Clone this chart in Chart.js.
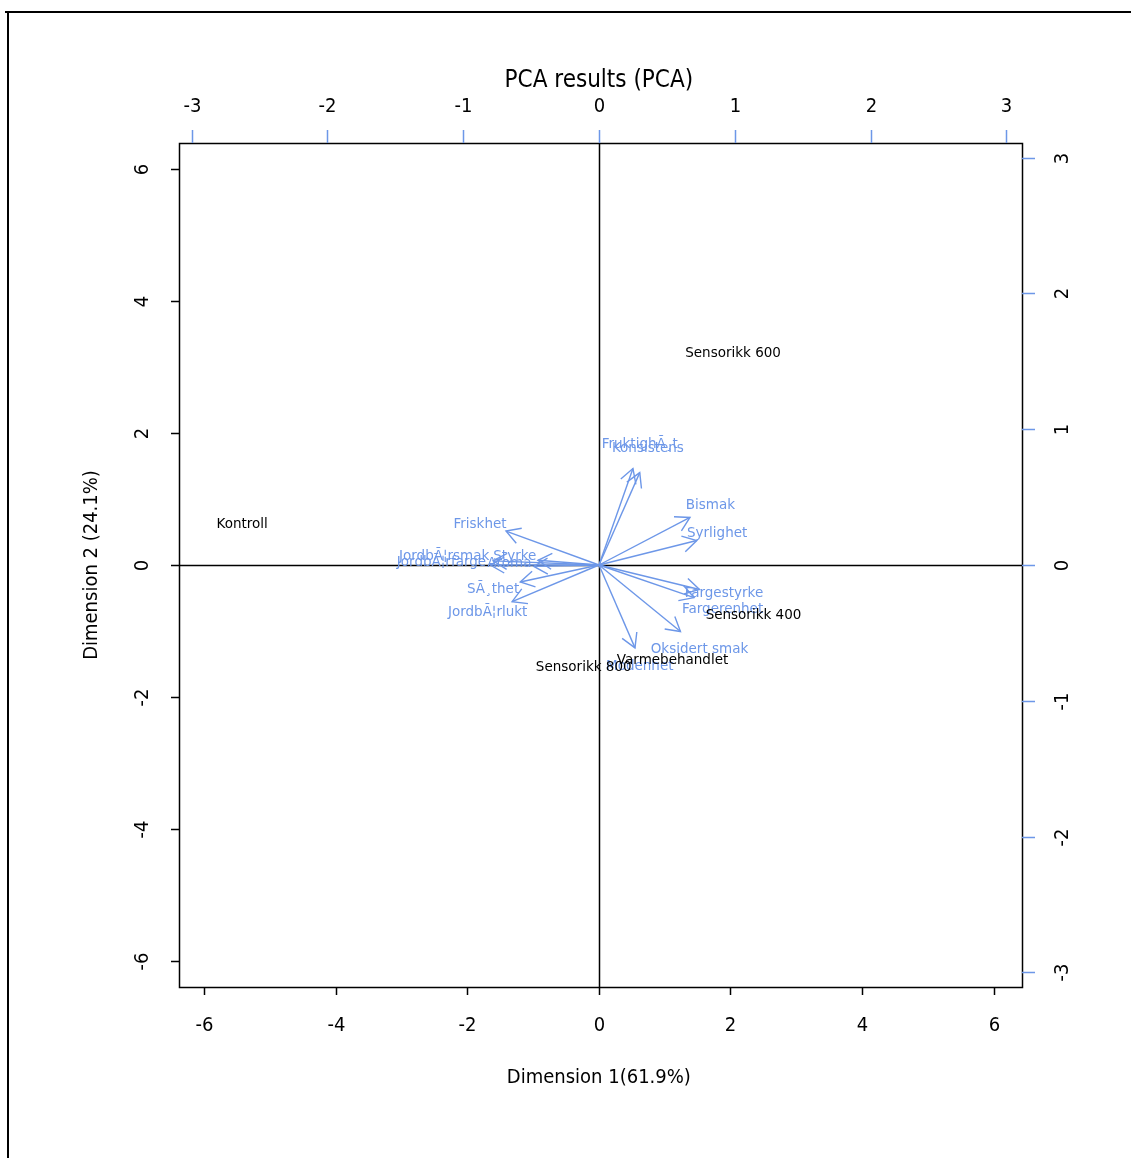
<!DOCTYPE html>
<html>
<head>
<meta charset="utf-8">
<script src="https://cdn.jsdelivr.net/npm/chart.js@4/dist/chart.umd.min.js"></script>
<style>
  html, body { margin: 0; padding: 0; background: #fff; }
</style>
</head>
<body>
<canvas id="pca" width="1131" height="1158"></canvas>
<script>
// ---- observasjoner (nedre / venstre akse) ----
const scoreNames = ["Kontroll", "Sensorikk 600", "Sensorikk 400", "Sensorikk 800", "Varmebehandlet"];
const scoreX = [-5.42, 2.04, 2.35, -0.23, 1.12];
const scoreY = [0.62, 3.2, -0.77, -1.55, -1.44];

// ---- variabler / piler (øvre / høyre akse) ----
const varNames = ["Friskhet", "JordbÃ¦rsmak", "JordbÃ¦rfarge", "Styrke", "Aroma", "SÃ¸thet", "JordbÃ¦rlukt",
  "FruktighÃ¸t", "Konsistens", "Bismak", "Syrlighet", "Fargestyrke", "Fargerenhet", "Oksidert smak", "Modenhet"];
const loadX = [-0.685, -0.78, -0.80, -0.45, -0.48, -0.58, -0.64, 0.25, 0.30, 0.67, 0.72, 0.74, 0.70, 0.60, 0.265];
const loadY = [0.25, 0.03, 0.0, 0.035, -0.01, -0.125, -0.27, 0.71, 0.68, 0.35, 0.18, -0.18, -0.24, -0.49, -0.61];
const labelX = [-0.876, -1.14, -1.16, -0.62, -0.66, -0.78, -0.82, 0.30, 0.36, 0.82, 0.87, 0.92, 0.91, 0.74, 0.30];
const labelY = [0.30, 0.066, 0.015, 0.066, 0.01, -0.18, -0.35, 0.89, 0.86, 0.44, 0.235, -0.21, -0.33, -0.62, -0.75];

// ---- akser ----
const xTicks = [-6, -4, -2, 0, 2, 4, 6];
const yTicks = [-6, -4, -2, 0, 2, 4, 6];
const x2Ticks = [-3, -2, -1, 0, 1, 2, 3];
const y2Ticks = [-3, -2, -1, 0, 1, 2, 3];

const title = "PCA results (PCA)";
const xTitle = "Dimension 1(61.9%)";
const yTitle = "Dimension 2 (24.1%)";

const BLUE = "#6d97e8";
const FONT_AX = '"DejaVu Sans Condensed", "DejaVu Sans", sans-serif';
const FONT_TXT = '"DejaVu Sans", sans-serif';

function fmt(v) { return v < 0 ? "-" + Math.abs(v) : String(v); }

// tegner piler, tekst, akser og ramme rundt plottet
const pcaPlugin = {
  id: "pca",
  beforeDatasetsDraw(chart) {
    const ctx = chart.ctx, a = chart.chartArea;
    const sx = chart.scales.x, sy = chart.scales.y;
    ctx.save();
    ctx.strokeStyle = "#000";
    ctx.lineWidth = 1.5;
    const x0 = Math.round(sx.getPixelForValue(0)) + 0.5;
    const y0 = Math.round(sy.getPixelForValue(0)) + 0.5;
    ctx.beginPath();
    ctx.moveTo(x0, a.top); ctx.lineTo(x0, a.bottom);
    ctx.moveTo(a.left, y0); ctx.lineTo(a.right, y0);
    ctx.stroke();
    ctx.restore();
  },
  afterDatasetsDraw(chart) {
    const ctx = chart.ctx, a = chart.chartArea;
    const sx = chart.scales.x, sy = chart.scales.y;
    const sx2 = chart.scales.x2, sy2 = chart.scales.y2;
    ctx.save();

    // pilspisser
    ctx.strokeStyle = BLUE;
    ctx.lineWidth = 1.4;
    const ox = sx2.getPixelForValue(0), oy = sy2.getPixelForValue(0);
    varNames.forEach((n, i) => {
      const tx = sx2.getPixelForValue(loadX[i]), ty = sy2.getPixelForValue(loadY[i]);
      const ang = Math.atan2(ty - oy, tx - ox);
      const len = 16, spread = Math.PI / 6;
      ctx.beginPath();
      ctx.moveTo(tx - len * Math.cos(ang - spread), ty - len * Math.sin(ang - spread));
      ctx.lineTo(tx, ty);
      ctx.lineTo(tx - len * Math.cos(ang + spread), ty - len * Math.sin(ang + spread));
      ctx.stroke();
    });

    // variabelnavn
    ctx.font = "13.5px " + FONT_TXT;
    ctx.textAlign = "center";
    ctx.textBaseline = "middle";
    ctx.fillStyle = BLUE;
    varNames.forEach((n, i) => {
      ctx.fillText(n, sx2.getPixelForValue(labelX[i]), sy2.getPixelForValue(labelY[i]));
    });

    // observasjonsnavn
    ctx.fillStyle = "#000";
    scoreNames.forEach((n, i) => {
      ctx.fillText(n, sx.getPixelForValue(scoreX[i]), sy.getPixelForValue(scoreY[i]));
    });

    // boks
    ctx.strokeStyle = "#000";
    ctx.lineWidth = 1.5;
    ctx.strokeRect(a.left + 0.5, a.top + 0.5, a.right - a.left, a.bottom - a.top);

    // nedre akse
    ctx.font = "20px " + FONT_AX;
    ctx.fillStyle = "#000";
    ctx.beginPath();
    xTicks.forEach(v => {
      const p = Math.round(sx.getPixelForValue(v)) + 0.5;
      ctx.moveTo(p, a.bottom); ctx.lineTo(p, a.bottom + 8);
      ctx.fillText(fmt(v), p, a.bottom + 39);
    });
    // venstre akse
    yTicks.forEach(v => {
      const p = Math.round(sy.getPixelForValue(v)) + 0.5;
      ctx.moveTo(a.left, p); ctx.lineTo(a.left - 8, p);
      ctx.save();
      ctx.translate(a.left - 36, p);
      ctx.rotate(-Math.PI / 2);
      ctx.fillText(fmt(v), 0, 0);
      ctx.restore();
    });
    ctx.stroke();

    // øvre akse (blå streker)
    ctx.strokeStyle = BLUE;
    ctx.beginPath();
    x2Ticks.forEach(v => {
      const p = Math.round(sx2.getPixelForValue(v)) + 0.5;
      ctx.moveTo(p, a.top); ctx.lineTo(p, a.top - 13);
      ctx.fillText(fmt(v), p, a.top - 36);
    });
    // høyre akse
    y2Ticks.forEach(v => {
      const p = Math.round(sy2.getPixelForValue(v)) + 0.5;
      ctx.moveTo(a.right, p); ctx.lineTo(a.right + 13, p);
      ctx.save();
      ctx.translate(a.right + 41, p);
      ctx.rotate(-Math.PI / 2);
      ctx.fillText(fmt(v), 0, 0);
      ctx.restore();
    });
    ctx.stroke();

    // titler
    const cx = sx.getPixelForValue(0);
    ctx.font = "24px " + FONT_AX;
    ctx.fillText(title, cx, 81);
    ctx.font = "20px " + FONT_AX;
    ctx.fillText(xTitle, cx, 1078);
    ctx.save();
    ctx.translate(92, sy.getPixelForValue(0));
    ctx.rotate(-Math.PI / 2);
    ctx.fillText(yTitle, 0, 0);
    ctx.restore();

    // ytre ramme
    ctx.strokeStyle = "#000";
    ctx.lineWidth = 2;
    ctx.beginPath();
    ctx.moveTo(5, 12); ctx.lineTo(1131, 12);
    ctx.moveTo(8, 11); ctx.lineTo(8, 1158);
    ctx.stroke();

    ctx.restore();
  }
};

const arrowSets = varNames.map((n, i) => ({
  label: n,
  data: [{ x: 0, y: 0 }, { x: loadX[i], y: loadY[i] }],
  xAxisID: "x2",
  yAxisID: "y2",
  showLine: true,
  borderColor: BLUE,
  borderWidth: 1.4,
  pointRadius: 0,
  fill: false
}));

const scoreSet = {
  label: "obs",
  data: scoreX.map((x, i) => ({ x, y: scoreY[i] })),
  xAxisID: "x",
  yAxisID: "y",
  pointRadius: 0
};

new Chart(document.getElementById("pca"), {
  type: "scatter",
  data: { datasets: [scoreSet, ...arrowSets] },
  options: {
    responsive: false,
    animation: false,
    events: [],
    layout: { padding: { left: 179, right: 109, top: 143, bottom: 171 } },
    plugins: { legend: { display: false }, tooltip: { enabled: false } },
    scales: {
      x: { type: "linear", position: "bottom", min: -6.38, max: 6.43, display: false },
      y: { type: "linear", position: "left", min: -6.394, max: 6.394, display: false },
      x2: { type: "linear", position: "top", min: -3.093, max: 3.115, display: false },
      y2: { type: "linear", position: "right", min: -3.107, max: 3.107, display: false }
    }
  },
  plugins: [pcaPlugin]
});
</script>
</body>
</html>
